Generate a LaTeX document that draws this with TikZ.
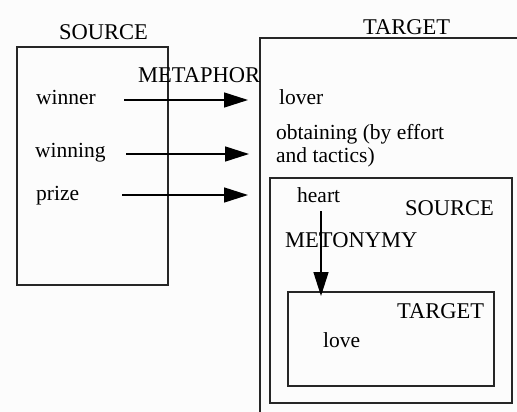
\documentclass[tikz,border=0pt]{standalone}
\usepackage{fontspec}
\setmainfont{Liberation Serif}
\usetikzlibrary{arrows.meta}
\begin{document}
\begin{tikzpicture}[x=1pt,y=-1pt,
  frame/.style={draw=black!85,line width=1.6pt},
  link/.style={draw=black,line width=1.5pt,-{Triangle[length=24pt,width=15pt]}},
  word/.style={anchor=base west,inner sep=0pt,font=\fontsize{21.5}{23}\selectfont},
  caps/.style={anchor=base west,inner sep=0pt,font=\fontsize{22.5}{24}\selectfont}]
\useasboundingbox (0,0) rectangle (517,412);
\fill[white!99!black] (0,0) rectangle (517,412);
\clip (0,0) rectangle (517,412);

% source domain (left) and target domain (right, running off the page)
\draw[frame] (17,47) rectangle (168,285);
\draw[frame] (260,430) -- (260,38) -- (530,38);
% nested metonymy domains
\draw[frame] (270,178) rectangle (512,403);
\draw[frame] (288,292) rectangle (494,386);

% headings
\node[caps] (srcT) at (59,40) {SOURCE};
\node[caps] (tgtT) at (363,35) {TARGET};
\node[caps] (meta) at (138,82) {METAPHOR};
\node[caps] (src2) at (405,215) {SOURCE};
\node[caps] (meto) at (285,247) {METONYMY};
\node[caps] (tgt2) at (397,318) {TARGET};

% source items
\node[word] (winner) at (36,105) {winner};
\node[word] (winning) at (35,157) {winning};
\node[word] (prize) at (36,200) {prize};

% target items
\node[word] (lover) at (279,105) {lover};
\node[word,align=left,anchor=north west] (obtain) at (276,124.5)
  {obtaining (by effort\\and tactics)};
\node[word] (heart) at (297,202) {heart};
\node[word] (love) at (323,347) {love};

% mapping arrows
\coordinate (a1s) at (124,100);  \coordinate (a1e) at (248,100);
\coordinate (a2s) at (126,154);  \coordinate (a2e) at (249,154);
\coordinate (a3s) at (122,195);  \coordinate (a3e) at (248,195);
\coordinate (a4s) at (321,211);  \coordinate (a4e) at (321,296);
\draw[link] (a1s) -- (a1e);
\draw[link] (a2s) -- (a2e);
\draw[link] (a3s) -- (a3e);
\draw[link] (a4s) -- (a4e);
\end{tikzpicture}
\end{document}
